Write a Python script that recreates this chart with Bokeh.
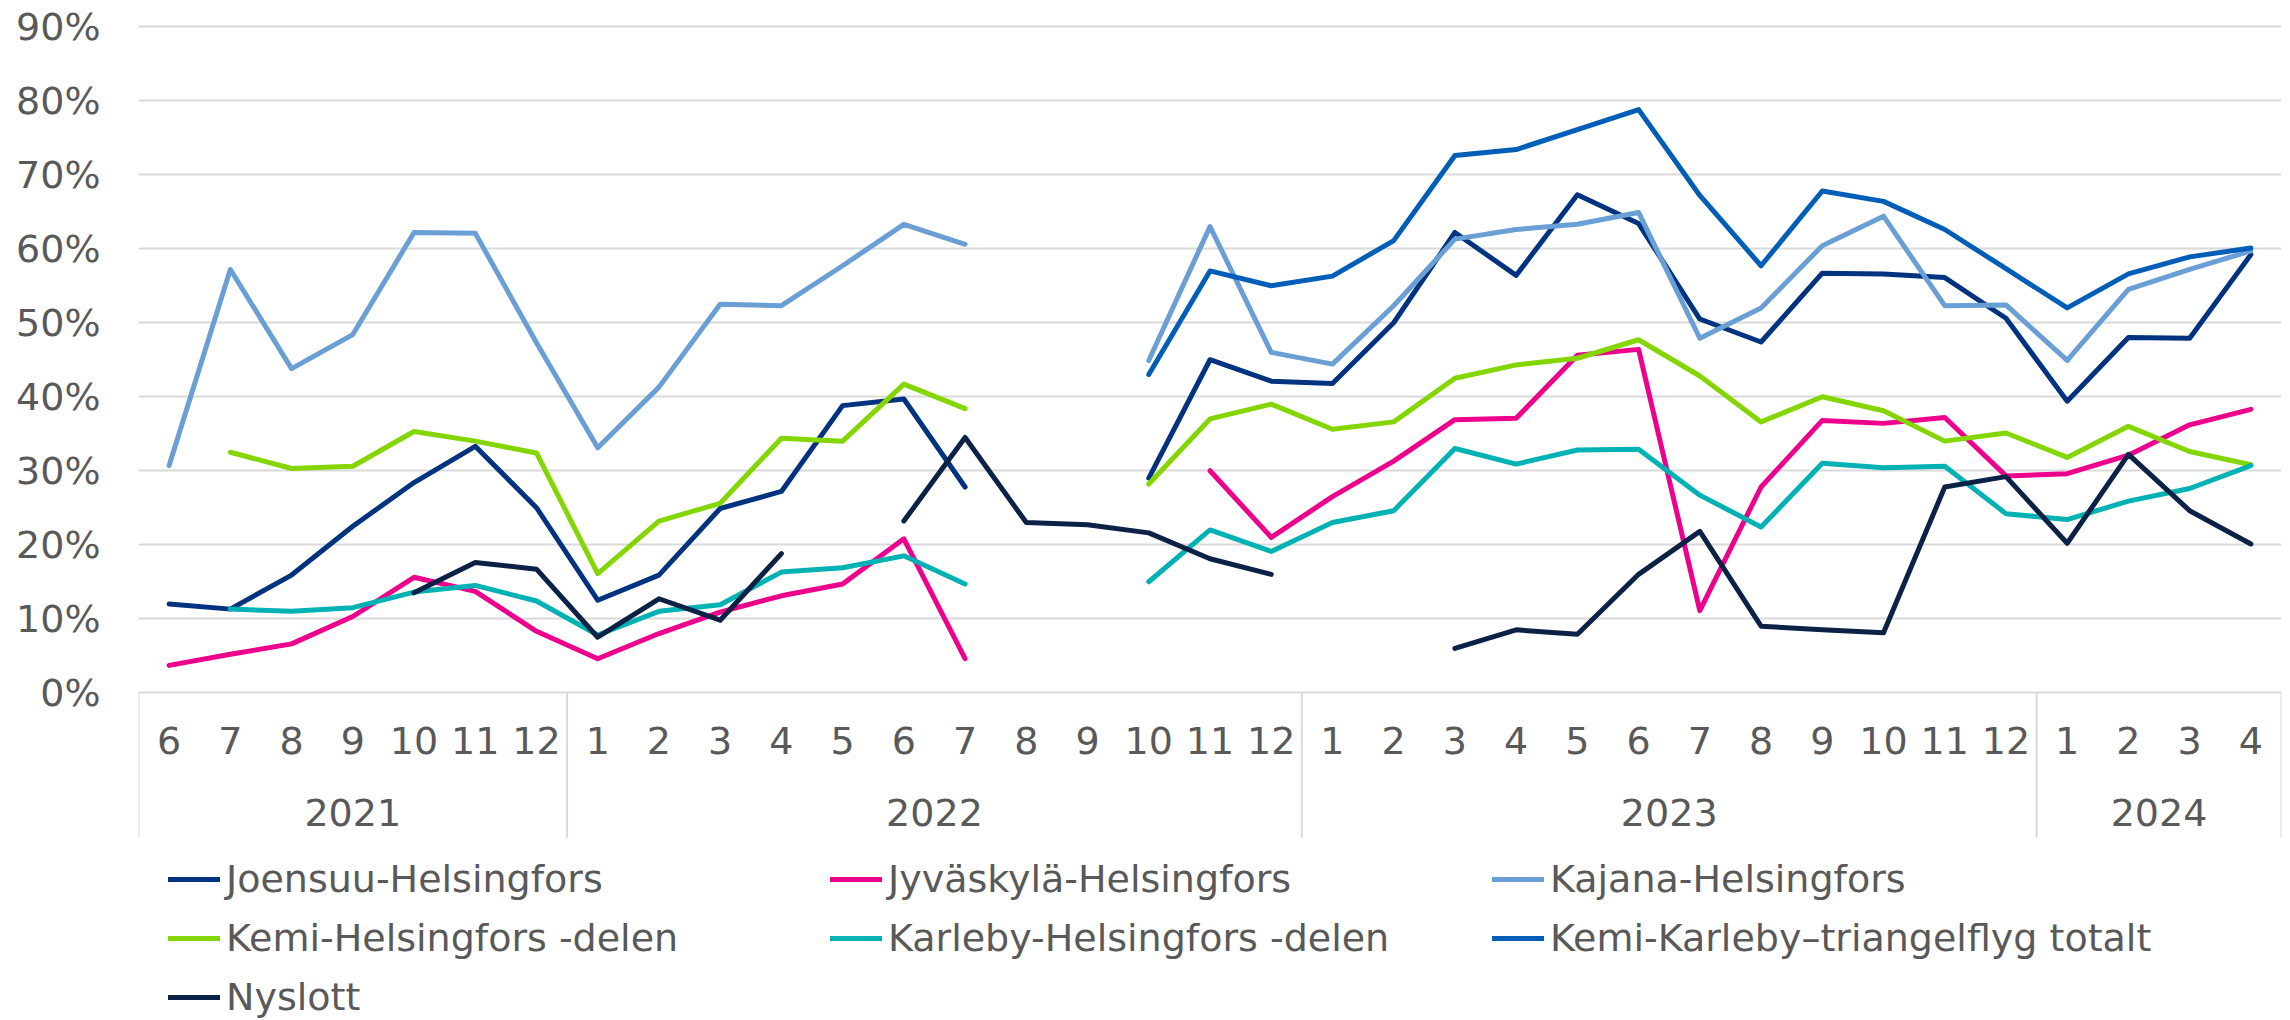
import numpy as np
from bokeh.plotting import figure
from bokeh.models import (FactorRange, Range1d, CategoricalAxis, FixedTicker,
                          PrintfTickFormatter, Legend, LegendItem, ColumnDataSource)
from bokeh.core.properties import value
from bokeh.embed import file_html
from bokeh.resources import INLINE

nan = float("nan")

# ---- categories ----
year_labels = ["2021", "2022", "2023", "2024"]
months_2021 = ["6", "7", "8", "9", "10", "11", "12"]
months_2022 = ["1", "2", "3", "4", "5", "6", "7", "8", "9", "10", "11", "12"]
months_2023 = ["1", "2", "3", "4", "5", "6", "7", "8", "9", "10", "11", "12"]
months_2024 = ["1", "2", "3", "4"]
y_ticks = [0, 10, 20, 30, 40, 50, 60, 70, 80, 90]

# ---- series values (%) ----
joensuu = [12.0, 11.3, 15.9, 22.5, 28.4, 33.3, 25.0, 12.5, 15.9, 24.9, 27.2, 38.8, 39.7, 27.8,
           nan, nan, 29.0, 45.0, 42.1, 41.8, 50.0, 62.2, 56.4, 67.3, 63.4, 50.5, 47.4, 56.7,
           56.6, 56.1, 50.6, 39.4, 48.0, 47.9, 59.2]
jyvaskyla = [3.7, 5.2, 6.6, 10.3, 15.6, 13.7, 8.3, 4.6, 8.0, 10.9, 13.1, 14.7, 20.8, 4.6,
             nan, nan, nan, 30.0, 21.0, 26.5, 31.3, 36.9, 37.1, 45.6, 46.4, 11.1, 27.8, 36.8,
             36.4, 37.2, 29.3, 29.6, 32.1, 36.2, 38.3]
kajana = [30.7, 57.2, 43.8, 48.4, 62.2, 62.1, 47.3, 33.1, 41.3, 52.5, 52.3, 57.7, 63.3, 60.6,
          nan, nan, 44.9, 63.0, 46.0, 44.4, 52.3, 61.3, 62.6, 63.3, 64.9, 47.9, 52.0, 60.4,
          64.4, 52.3, 52.4, 44.9, 54.5, 57.2, 59.7]
kemi = [nan, 32.5, 30.3, 30.6, 35.3, 34.0, 32.4, 16.1, 23.2, 25.6, 34.4, 34.0, 41.7, 38.4,
        nan, nan, 28.2, 37.0, 39.0, 35.6, 36.6, 42.5, 44.3, 45.2, 47.7, 42.8, 36.6, 40.0,
        38.1, 34.0, 35.1, 31.8, 36.0, 32.6, 30.8]
karleby = [nan, 11.3, 11.0, 11.5, 13.6, 14.5, 12.4, 7.8, 11.0, 11.9, 16.3, 16.9, 18.5, 14.7,
           nan, nan, 15.0, 22.0, 19.1, 23.0, 24.6, 33.0, 30.9, 32.8, 32.9, 26.7, 22.4, 31.0,
           30.4, 30.6, 24.2, 23.4, 25.9, 27.6, 30.7]
triangel = [nan, nan, nan, nan, nan, nan, nan, nan, nan, nan, nan, nan, nan, nan,
            nan, nan, 43.0, 57.0, 55.0, 56.3, 61.1, 72.6, 73.4, 76.1, 78.8, 67.2, 57.7, 67.8,
            66.4, 62.6, 57.3, 52.0, 56.6, 58.9, 60.1]
nyslott = [nan, nan, nan, nan, 13.5, 17.6, 16.7, 7.5, 12.7, 9.8, 18.8, nan, 23.2, 34.5,
           23.0, 22.7, 21.6, 18.1, 16.0, nan, nan, 6.0, 8.5, 7.9, 16.0, 21.8, 9.0, 8.5,
           8.1, 27.8, 29.2, 20.2, 32.2, 24.6, 20.1]

series_names = ["Joensuu-Helsingfors", "Jyväskylä-Helsingfors", "Kajana-Helsingfors",
                "Kemi-Helsingfors -delen", "Karleby-Helsingfors -delen",
                "Kemi-Karleby\u2013triangelflyg totalt", "Nyslott"]
series_values = [joensuu, jyvaskyla, kajana, kemi, karleby, triangel, nyslott]
series_colors = ["#00337f", "#ec008c", "#6a9fd6", "#84d600", "#00b2b4", "#005eb8", "#0c2146"]

# ---- nested factors (year, month) ----
year_months = [months_2021, months_2022, months_2023, months_2024]
factors = [(y, m) for y, ms in zip(year_labels, year_months) for m in ms]

FONT = "DejaVu Sans"
TXT = "#595959"
GRID = "#d9d9d9"
FS = "38px"

# frame runs from the top gridline area to the bottom of the canvas;
# the axis rows and legend live in the lower part of the frame
Y_TOP = 90.57
Y_BOTTOM = -44.29
SEP_BOTTOM = -19.59
YEAR_ROW = -16.2

p = figure(width=2290, height=1020,
           x_range=FactorRange(factors=factors, range_padding=0, factor_padding=0, group_padding=0),
           y_range=Range1d(Y_BOTTOM, Y_TOP),
           output_backend="svg", toolbar_location=None,
           x_axis_location=None, y_axis_location="left",
           min_border_left=138, min_border_right=9, min_border_top=22, min_border_bottom=0)
p.outline_line_color = None
p.background_fill_color = "white"
p.border_fill_color = "white"

# y axis
p.yaxis.ticker = FixedTicker(ticks=y_ticks)
p.yaxis.formatter = PrintfTickFormatter(format="%d%%")
p.yaxis.axis_line_color = None
p.yaxis.major_tick_line_color = None
p.yaxis.minor_tick_line_color = None
p.yaxis.major_tick_out = 0
p.yaxis.major_tick_in = 0
p.yaxis.major_label_standoff = 38
p.yaxis.major_label_text_font = FONT
p.yaxis.major_label_text_font_size = FS
p.yaxis.major_label_text_color = TXT
p.ygrid.grid_line_color = GRID
p.ygrid.grid_line_width = 2
p.xgrid.visible = False

# x axis (months), fixed at 0 inside the frame; year row drawn separately below
xaxis = CategoricalAxis(fixed_location=0)
xaxis.axis_line_color = None
xaxis.major_tick_line_color = None
xaxis.minor_tick_line_color = None
xaxis.major_tick_out = 0
xaxis.major_tick_in = 0
xaxis.separator_line_color = None
xaxis.group_text_color = None
xaxis.major_label_standoff = 34
xaxis.major_label_text_font = FONT
xaxis.major_label_text_font_size = FS
xaxis.major_label_text_color = TXT
p.add_layout(xaxis, "below")

# year separators and year labels
lengths = [len(ms) for ms in year_months]
bounds = np.concatenate([[0], np.cumsum(lengths)]).astype(float)
centers = (bounds[:-1] + bounds[1:]) / 2
p.segment(x0=list(bounds), y0=[0] * len(bounds), x1=list(bounds), y1=[SEP_BOTTOM] * len(bounds),
          line_color=GRID, line_width=2)
year_src = ColumnDataSource(dict(x=list(centers), y=[YEAR_ROW] * len(centers), t=year_labels))
p.text(x="x", y="y", text="t", source=year_src, text_align="center", text_baseline="middle",
       text_font=value(FONT), text_font_size=value(FS), text_color=TXT)

# lines
data = {"x": factors}
for i, v in enumerate(series_values):
    data[f"s{i}"] = v
src = ColumnDataSource(data)
items = []
for i, (name, color) in enumerate(zip(series_names, series_colors)):
    r = p.line(x="x", y=f"s{i}", source=src, line_color=color, line_width=5,
               line_cap="round", line_join="round")
    items.append(LegendItem(label=name, renderers=[r]))

legend = Legend(items=items, orientation="horizontal", ncols=3,
                location=(30, 1),
                glyph_width=52, glyph_height=44, label_height=44, label_width=589,
                label_standoff=6, spacing=15, padding=0, margin=0,
                border_line_color=None, background_fill_alpha=0,
                label_text_font=FONT, label_text_font_size=FS, label_text_color=TXT)
p.add_layout(legend)

open("out.html", "w").write(file_html(p, INLINE))
